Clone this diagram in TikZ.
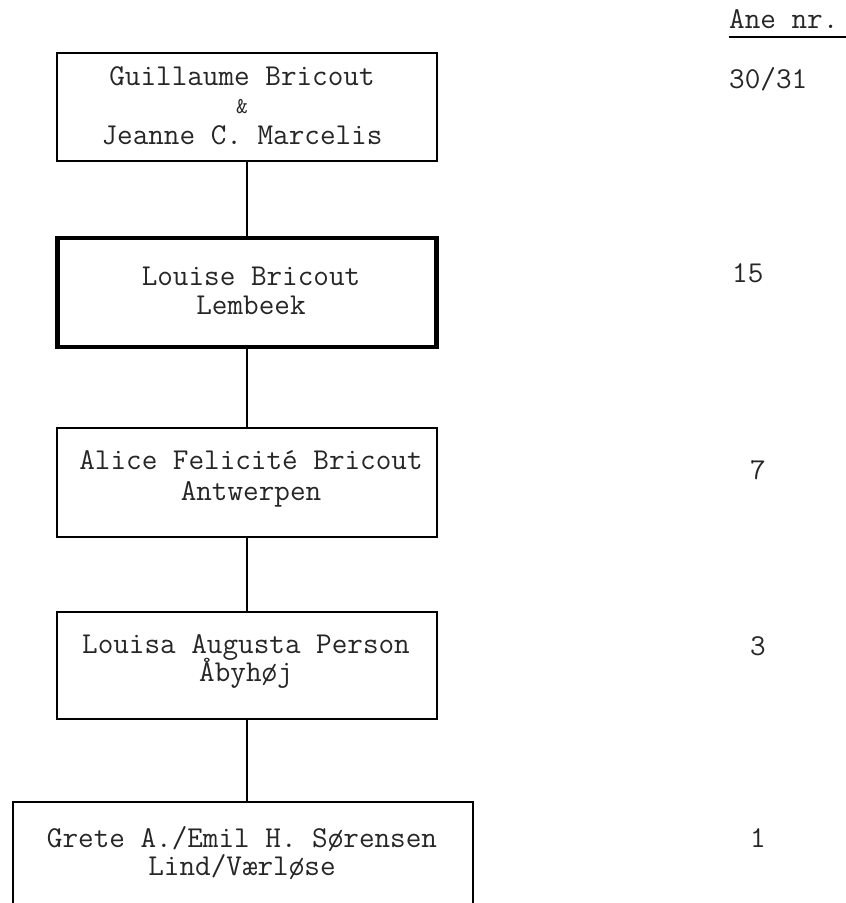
\documentclass[tikz,border=0pt]{standalone}
\begin{document}
\begin{tikzpicture}[x=1pt,y=-1pt,
  every node/.style={font=\ttfamily\fontsize{30.3}{33}\selectfont, text=black!85},
  person/.style={draw=black, line width=2pt, rectangle, inner sep=0pt, minimum width=380pt, minimum height=108pt},
  focus/.style={person, line width=4.5pt},
  nametext/.style={anchor=base, inner sep=0pt},
  anenum/.style={anchor=base west, inner sep=0pt},
  link/.style={draw=black, line width=2pt}]
\useasboundingbox (0,0) rectangle (846,903);
\node[person] (b1) at (247,107) {};
\node[nametext] (t1a) at (242,85) {Guillaume Bricout};
\node[nametext] (t1b) at (242,113) {\scalebox{0.75}{\&}};
\node[nametext] (t1c) at (242,144) {Jeanne C. Marcelis};
\node[focus, minimum width=379pt, minimum height=109pt] (b2) at (247,292.5) {};
\node[nametext] (t2a) at (251,285) {Louise Bricout};
\node[nametext] (t2b) at (251,314) {Lembeek};
\node[person, minimum height=109pt] (b3) at (247,482.5) {};
\node[nametext] (t3a) at (251,469) {Alice Felicité Bricout};
\node[nametext] (t3b) at (251,500) {Antwerpen};
\node[person, minimum height=107pt] (b4) at (247,665.5) {};
\node[nametext] (t4a) at (246,653) {Louisa Augusta Person};
\node[nametext] (t4b) at (246,681) {Åbyhøj};
\node[person, minimum width=460pt] (b5) at (243,856) {};
\node[nametext] (t5a) at (242,847) {Grete A./Emil H. Sørensen};
\node[nametext] (t5b) at (242,875) {Lind/Værløse};
\draw[link] (b1.south) -- (b2.north);
\draw[link] (b2.south) -- (b3.north);
\draw[link] (b3.south) -- (b4.north);
\draw[link] (b4.south) -- (b4.south |- b5.north);
\node[anenum] (ane) at (729,28) {Ane nr.};
\coordinate (ulend) at (846,37);
\draw[line width=1.5pt] (ane.base west |- ulend) -- (ulend);
\node[anenum] (n31) at (729,88) {30/31};
\node[anenum] (n15) at (732,282) {15};
\node[anenum] (n7) at (750,479) {7};
\node[anenum] (n3) at (750,655) {3};
\node[anenum] (n1) at (750,847) {1};
\end{tikzpicture}
\end{document}
